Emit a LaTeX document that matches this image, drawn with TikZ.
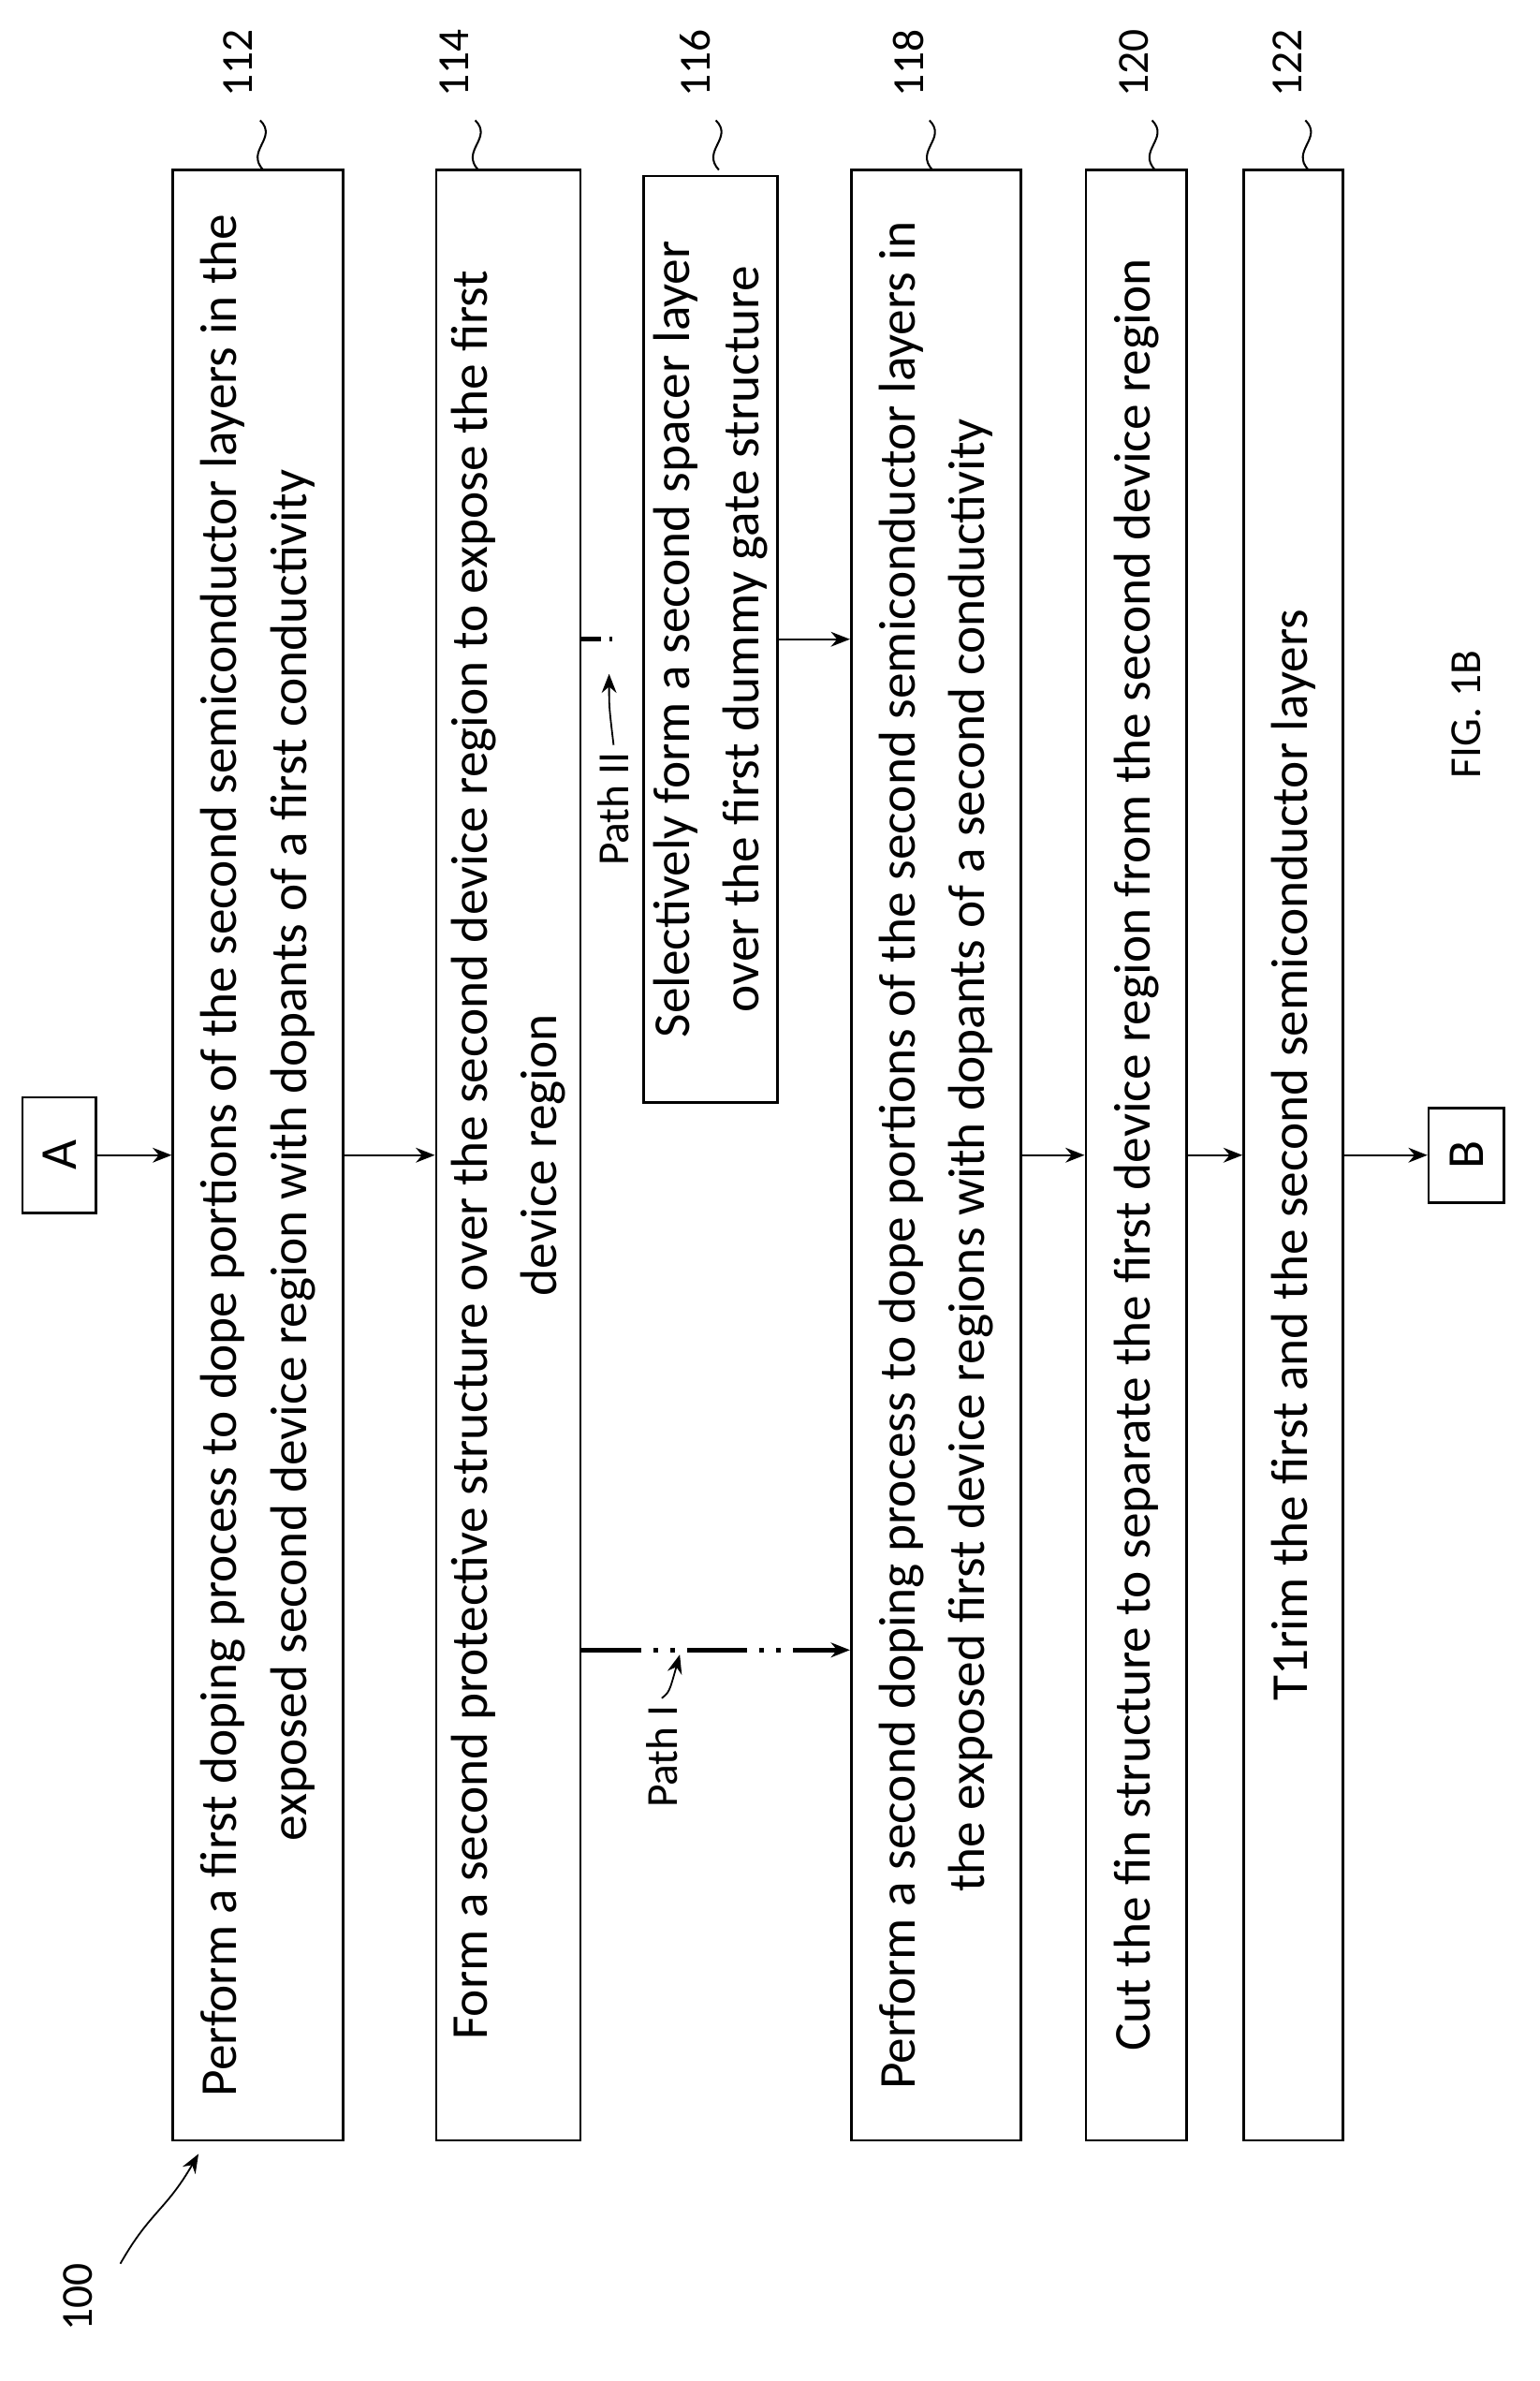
\documentclass[tikz,border=0pt]{standalone}
\usepackage{fontspec}
\setmainfont{Carlito}
\usetikzlibrary{arrows.meta}
\begin{document}
\begin{tikzpicture}[x=0.025cm,y=-0.025cm,
  box/.style={draw,line width=1.2pt,rotate=90,align=center,inner sep=0pt,font=\fontsize{24.5}{33}\selectfont},
  arr/.style={-{Stealth[length=9pt,width=7pt]},line width=1pt},
  lbl/.style={rotate=90,font=\fontsize{21}{25}\selectfont},
  sq/.style={line width=0.9pt}]
\useasboundingbox (0,0) rectangle (1024,1583);
\node[box,minimum width=1310*0.025cm,minimum height=113*0.025cm] (b112) at (171.5,768) {Perform a first doping process to dope portions of the second semiconductor layers in the\\exposed second device region with dopants of a first conductivity};
\node[box,minimum width=1310*0.025cm,minimum height=96*0.025cm] (b114) at (338,768) {Form a second protective structure over the second device region to expose the first\\device region};
\node[box,minimum width=616*0.025cm,minimum height=89*0.025cm] (b116) at (472.5,425) {Selectively form a second spacer layer\\over the first dummy gate structure};
\node[box,minimum width=1310*0.025cm,minimum height=113*0.025cm] (b118) at (622.5,768) {Perform a second doping process to dope portions of the second semiconductor layers in\\the exposed first device regions with dopants of a second conductivity};
\node[box,minimum width=1310*0.025cm,minimum height=67*0.025cm] (b120) at (755.5,768) {Cut the fin structure to separate the first device region from the second device region};
\node[box,minimum width=1310*0.025cm,minimum height=66*0.025cm] (b122) at (860,768) {T1rim the first and the second semiconductor layers};
\node[box,minimum width=77*0.025cm,minimum height=49*0.025cm] (A) at (39.5,768) {A};
\node[box,minimum width=63*0.025cm,minimum height=50*0.025cm] (B) at (975,768) {B};
\draw[arr] (A.south) -- (b112.north |- A);
\draw[arr] (b112.south |- A) -- (b114.north |- A);
\draw[arr] (b118.south |- A) -- (b120.north |- A);
\draw[arr] (b120.south |- A) -- (b122.north |- A);
\draw[arr] (b122.south |- A) -- (B.north);
% Path I
\coordinate (p1) at (b114.south |- 0,1097);
\draw[arr,line width=2pt,dash pattern=on 28pt off 6pt on 2pt off 6pt on 2pt off 6pt] (p1) -- (b118.north |- p1);
\node[lbl] (pI) at (440,1168) {Path I};
\coordinate (pIt) at (452,1100);
\draw[arr,line width=0.8pt] (pI.east) .. controls (445,1125) .. (pIt);
% Path II
\coordinate (p2) at (b114.south |- b116);
\coordinate (p2e) at (407,425);
\draw[line width=2pt,dash pattern=on 9pt off 4pt] (p2) -- (p2e);
\draw[arr] (b116.south) -- (b118.north |- b116);
\node[lbl] (pII) at (408,538) {Path II};
\coordinate (pIIt) at (405,448);
\draw[arr,line width=0.8pt] (pII.east) .. controls (405,470) .. (pIIt);
% reference numbers
\foreach \n/\x/\bx in {112/158/175,114/302/318,116/462/478,118/604/620,120/754/768,122/856/870}{
  \node[lbl] (r\n) at (\x,42) {\n};
  \draw[sq] (\bx,113) .. controls (\bx-12,100) and (\bx+10,92) .. (\bx-2,80);
}
\node[lbl] (r100) at (52,1527) {100};
\coordinate (t100) at (132,1432);
\draw[arr,line width=0.8pt] (80,1505) .. controls (100,1470) and (110,1470) .. (t100);
\node[lbl] (fig) at (975,475) {FIG. 1B};
\end{tikzpicture}
\end{document}
